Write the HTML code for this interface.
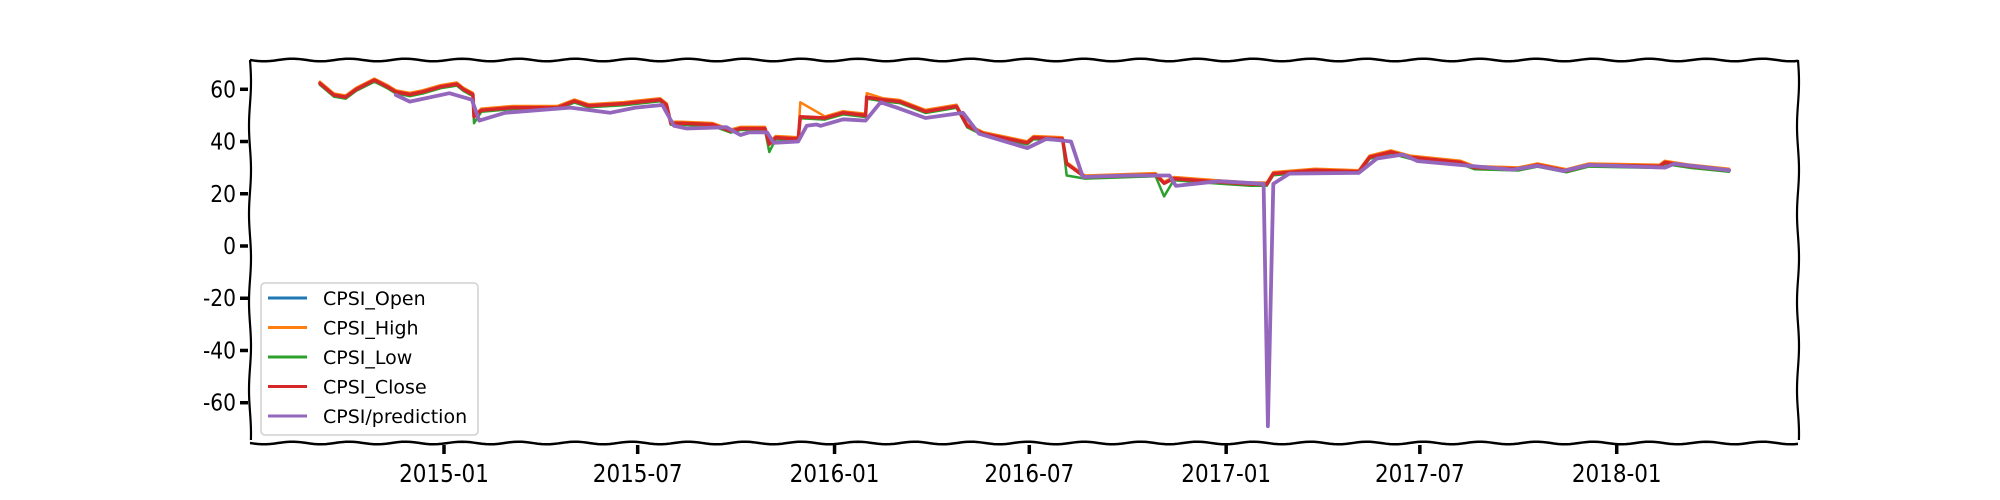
<!DOCTYPE html>
<html><head><meta charset="utf-8">
<style>
html,body{margin:0;padding:0;background:#fff;}
svg{display:block;font-family:"DejaVu Sans","Liberation Sans",sans-serif;}
</style></head>
<body>
<svg id="chart" width="2000" height="500" viewBox="0 0 2000 500" xmlns="http://www.w3.org/2000/svg">
<rect width="2000" height="500" fill="#fff"/>
<g id="frame"></g>
<g id="series"></g>
<g id="yticks"></g>
<g id="xticks"></g>
<g id="legend"></g>
</svg>
<script>
// days since 2015-01-01
const closeDays = [-116,-103,-92,-82,-65,-53,-45,-32,-20,-3,12,18,27,28,35,64,106,122,135,168,202,208,212,222,251,268,277,300,304,310,331,333,356,373,394,395,410,426,450,479,489,504,545,551,578,582,599,665,673,682,724,754,769,775,814,855,865,885,903,950,963,1004,1022,1049,1070,1136,1141,1165,1201];
const closeVals = [62.3,57.8,57,60,63.5,61,59,58,59,61,62,60,58,49.5,52,53,53,55.5,53.7,54.5,56,54,47,47,46.5,44,45,45,39,41.5,41,49.5,49,51,50,57,56,55.3,51.5,53.5,46,43,39.5,41.5,41,31.5,26.4,27.3,24,25.8,24.5,23.7,23.7,27.7,29,28.4,34,36,34,32,30,29.5,31,28.8,31,30.5,32,30.5,29];
const openVals = [62.0,57.5,57.2,59.6,63.2,61.2,59.2,58.2,58.8,60.8,61.8,60.2,58.2,49.8,51.8,52.8,53.2,55.2,53.9,54.3,55.8,54.2,47.3,47.2,46.6,44.2,44.8,45.1,39.3,41.3,41.2,49.2,49.1,50.8,50.2,56.6,56.1,55.1,51.7,53.3,46.3,43.2,39.7,41.3,41.1,31.8,26.6,27.2,24.2,25.7,24.6,23.8,23.8,27.5,29.1,28.5,33.8,35.8,34.1,32.1,30.1,29.6,30.9,28.9,30.9,30.6,31.8,30.6,29.1];
const highVals = [62.9,58.4,57.6,60.6,64.1,61.6,59.6,58.6,59.6,61.6,62.6,60.6,58.6,50.1,52.6,53.6,53.6,56.1,54.3,55.1,56.6,54.6,47.6,47.6,47.1,44.6,45.6,45.6,39.6,42.1,41.6,55,49.6,51.6,50.6,58.5,56.6,55.9,52.1,54.1,46.6,43.6,40.1,42.1,41.6,32.1,27,27.9,24.6,26.4,25.1,24.3,24.3,28.3,29.6,29,34.6,36.6,34.6,32.6,30.6,30.1,31.6,29.4,31.6,31.1,32.6,31.1,29.6];
const lowVals = [61.7,57.2,56.4,59.4,62.9,60.4,58.4,57.4,58.4,60.4,61.4,59.4,57.4,47,51.4,52.4,52.4,54.9,53.1,53.9,55.4,53.4,46.4,46.4,45.9,43.4,44.4,44.4,36,40.9,40.4,48.9,48.4,50.4,49.4,56.4,55.4,54.7,50.9,52.9,45.4,42.4,38.9,40.9,40.4,27,25.8,26.7,19,25.2,23.9,23.1,23.1,27.1,28.4,27.8,33.4,35.4,33.4,31.4,29.4,28.9,30.4,28.2,30.4,29.9,31.4,29.9,28.4];
const predDays = [-45,-32,5,26,33,57,118,155,179,204,215,227,264,277,285,302,308,331,339,348,352,373,394,408,423,450,485,500,545,563,586,597,637,678,684,724,766,770,775,790,855,872,896,910,950,998,1022,1046,1070,1141,1150,1201];
const predVals = [57.8,55.3,58.5,56,48,51,53,51,53,54,46,45,45.5,42.5,43.5,43.5,39.5,40,46,46.5,46,48.5,48,55,53,49,51,43,37.5,41,40,26.4,27,27,23,24.8,23.8,-69,23.8,27.7,28,33.5,35,32.5,31,29.2,30.7,28.7,31,30,31.5,29];
const yTicks = [60,40,20,0,-20,-40,-60];
const xTickDays = [0,181,365,547,731,912,1096];
const xTickLabels = ["2015-01","2015-07","2016-01","2016-07","2017-01","2017-07","2018-01"];
const legendLabels = ["CPSI_Open","CPSI_High","CPSI_Low","CPSI_Close","CPSI/prediction"];
const legendColors = ["#1f77b4","#ff7f0e","#2ca02c","#d62728","#9467bd"];

const NS="http://www.w3.org/2000/svg";
const AX0=250,AX1=1798,AY0=60,AY1=443;
function xs(d){return 444+d*1.07;}
function ys(v){return 246-v*2.612;}
function mk(tag,attrs,parent){const e=document.createElementNS(NS,tag);for(const k in attrs)e.setAttribute(k,attrs[k]);parent.appendChild(e);return e;}
function wobbleH(x0,x1,y,amp,per){let d=`M${x0},${y}`;for(let x=x0;x<=x1;x+=4){d+=` L${x},${(y+amp*Math.sin((x-x0)/per)).toFixed(2)}`;}return d;}
function wobbleV(y0,y1,x,amp,per){let d=`M${x},${y0}`;for(let y=y0;y<=y1;y+=4){d+=` L${(x+amp*Math.sin((y-y0)/per)).toFixed(2)},${y}`;}return d;}

const frameG=document.getElementById('frame');
const spTop=mk('path',{d:wobbleH(AX0,AX1,AY0,1.3,9),stroke:'#000','stroke-width':2.5,fill:'none'},frameG);


const spBot=mk('path',{d:wobbleH(AX0,AX1,AY1,1.3,9),stroke:'#000','stroke-width':2.5,fill:'none'},frameG);


const spL=mk('path',{d:wobbleV(AY0,AY1,AX0,1.0,14),stroke:'#000','stroke-width':2.2,fill:'none'},frameG);


const spR=mk('path',{d:wobbleV(AY0,AY1,AX1,1.0,14),stroke:'#000','stroke-width':2.2,fill:'none'},frameG);



const sg=document.getElementById('series');
function drawLine(days,vals,color,w,name){
  const pts=days.map((d,i)=>`${xs(d).toFixed(1)},${ys(vals[i]).toFixed(1)}`).join(' ');
  const p=mk('polyline',{points:pts,fill:'none',stroke:color,'stroke-width':w,'stroke-linejoin':'round','stroke-linecap':'round'},sg);
  
  
}
drawLine(closeDays,openVals,'#1f77b4',2.5,'cpsi-open-line');
drawLine(closeDays,highVals,'#ff7f0e',2.5,'cpsi-high-line');
drawLine(closeDays,lowVals,'#2ca02c',2.5,'cpsi-low-line');
drawLine(closeDays,closeVals,'#d62728',3.5,'cpsi-close-line');
drawLine(predDays,predVals,'#9467bd',3.8,'cpsi-prediction-line');

const yg=document.getElementById('yticks');
yTicks.forEach(v=>{
  const y=ys(v);
  const t=mk('line',{x1:240,x2:248,y1:y,y2:y,stroke:'#000','stroke-width':3.5},yg);
  
  
  const tx=mk('text',{x:236,y:y+8,'text-anchor':'end','font-size':23,fill:'#000',transform:'translate(236,0) scale(0.88,1) translate(-236,0)'},yg);
  tx.textContent=String(v);
  
  
});
const xg=document.getElementById('xticks');
xTickDays.forEach((d,i)=>{
  const x=xs(d);
  const t=mk('line',{x1:x,x2:x,y1:445,y2:454,stroke:'#000','stroke-width':3.5},xg);
  
  
  const tx=mk('text',{x:x,y:482,'text-anchor':'middle','font-size':25,fill:'#000',transform:`translate(${x},0) scale(0.86,1) translate(${-x},0)`},xg);
  tx.textContent=xTickLabels[i];
  
  
});

const lg=document.getElementById('legend');
const box=mk('rect',{x:261,y:283,width:217,height:152,rx:4,fill:'#fff','fill-opacity':0.85,stroke:'#d0d0d0','stroke-width':1.5},lg);


legendLabels.forEach((lab,i)=>{
  const y=298+i*29.5;
  const l=mk('line',{x1:268,x2:307,y1:y,y2:y,stroke:legendColors[i],'stroke-width':3},lg);
  
  
  const tx=mk('text',{x:323,y:y+7,'font-size':19,fill:'#000'},lg);
  tx.textContent=lab;
  
  
});
</script>
</body></html>
